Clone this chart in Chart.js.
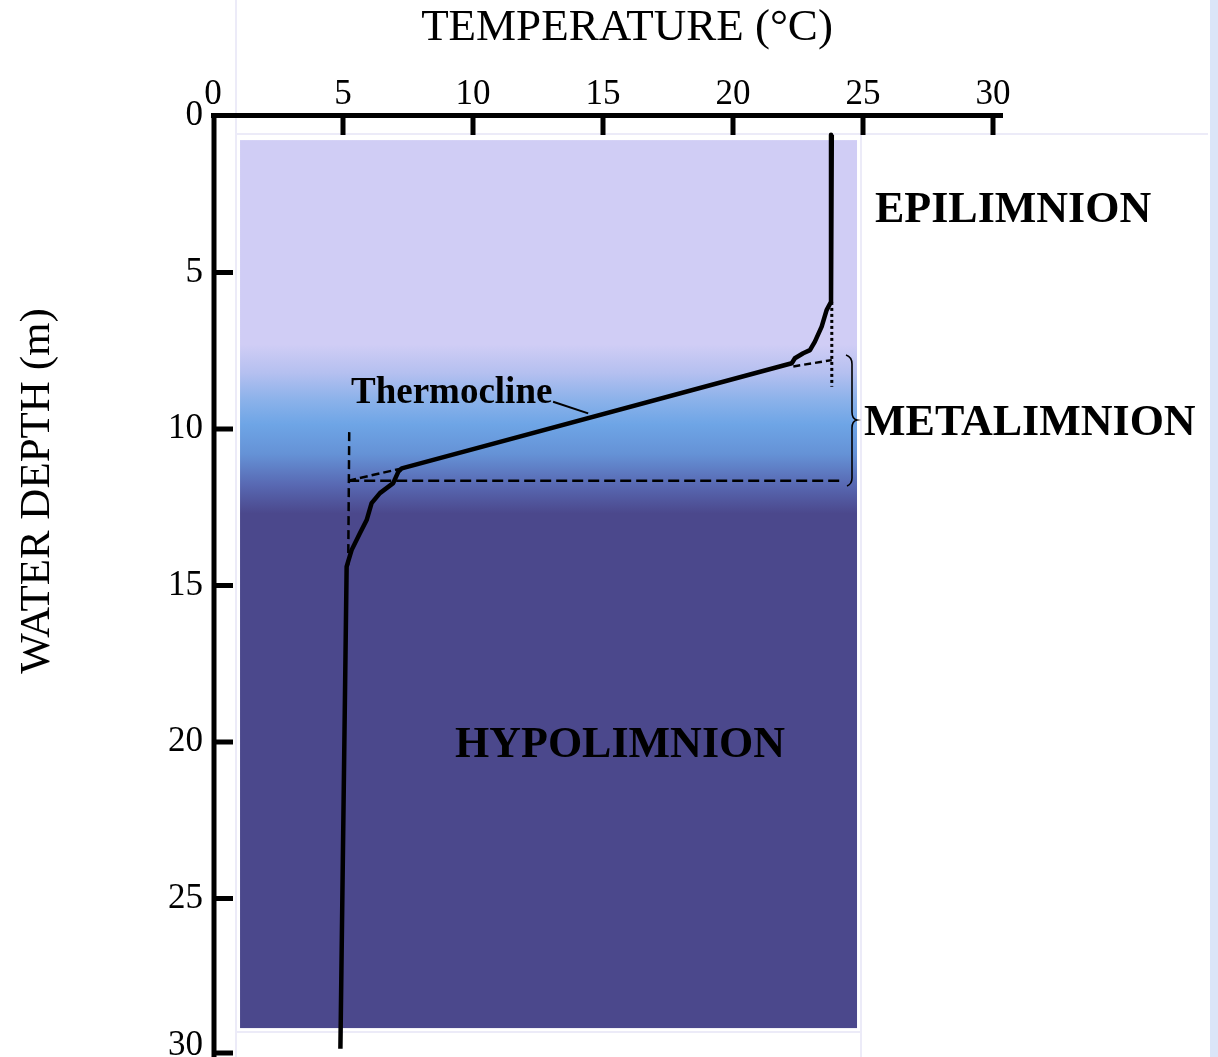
<!DOCTYPE html>
<html>
<head>
<meta charset="utf-8">
<title>Lake temperature profile</title>
<script src="https://cdn.jsdelivr.net/npm/chart.js@4.4.1/dist/chart.umd.min.js"></script>
<style>
  html, body { margin: 0; padding: 0; background: #fff; overflow: hidden; }
  #wrap { position: relative; width: 1218px; height: 1057px; }
</style>
</head>
<body>
<div id="wrap"><canvas id="chart"></canvas></div>
<script>
"use strict";

const TEMP_TICKS = [0, 5, 10, 15, 20, 25, 30];
const DEPTH_TICKS = [0, 5, 10, 15, 20, 25, 30];

// temperature profile (°C vs depth m)
const PROFILE_TEMP = [23.8, 23.77, 23.6, 23.41, 23.15, 22.96, 22.7, 22.38, 22.26, 7.26, 7.13, 6.93, 6.42, 6.1, 5.91, 5.65, 5.33, 5.14, 4.9];
const PROFILE_DEPTH = [0.6, 5.94, 6.2, 6.73, 7.21, 7.48, 7.58, 7.74, 7.9, 11.26, 11.36, 11.73, 12.05, 12.37, 12.91, 13.33, 13.87, 14.4, 29.8];

// construction lines
const UPPER_EXT_TEMP = [22.32, 23.8];
const UPPER_EXT_DEPTH = [8.0, 7.8];
const LOWER_EXT_TEMP = [5.2, 7.26];
const LOWER_EXT_DEPTH = [11.65, 11.26];
const BASE_TEMP = [5.2, 24.1];
const BASE_DEPTH = [11.65, 11.65];
const LOWER_VERT_TEMP = [5.24, 5.2];
const LOWER_VERT_DEPTH = [10.1, 14.35];
const UPPER_VERT_TEMP = [23.8, 23.8];
const UPPER_VERT_DEPTH = [5.94, 8.65];
const LEADER_TEMP = [13.08, 14.43];
const LEADER_DEPTH = [9.13, 9.5];

// water column shading (temp / depth extent) and colour stops by depth
const WATER_TEMP = [1.04, 24.77];
const WATER_DEPTH = [0.77, 29.14];
const SHADE_DEPTH = [7.3, 8.2, 9.05, 9.85, 10.8, 11.8, 12.7];
const SHADE_COLOR = ["#d0cdf5", "#b5c0f0", "#8cb2ea", "#6ea5e6", "#6592d6", "#5868b2", "#4b488c"];

const SERIF = "'Liberation Serif', 'DejaVu Serif', serif";

function pts(xs, ys) {
  return xs.map((x, i) => ({ x, y: ys[i] }));
}

function guide(xs, ys, dash, width) {
  return {
    data: pts(xs, ys),
    showLine: true,
    borderColor: "#000",
    borderWidth: width,
    borderDash: dash,
    pointRadius: 0,
    tension: 0,
  };
}

const decorPlugin = {
  id: "lakeDecor",
  beforeDraw(c) {
    const { ctx } = c;
    ctx.save();
    // faint frame of the original slide
    ctx.strokeStyle = "#ecebf8";
    ctx.lineWidth = 2;
    ctx.beginPath();
    ctx.moveTo(236, 0); ctx.lineTo(236, 1057);
    ctx.moveTo(236, 134); ctx.lineTo(1208, 134);
    ctx.moveTo(861, 134); ctx.lineTo(861, 1057);
    ctx.moveTo(236, 1032); ctx.lineTo(861, 1032);
    ctx.stroke();
    ctx.fillStyle = "#dbe5f8";
    ctx.fillRect(1210, 0, 8, 1057);
    ctx.restore();
  },
  beforeDatasetsDraw(c) {
    const { ctx, scales } = c;
    const x0 = scales.x.getPixelForValue(WATER_TEMP[0]);
    const x1 = scales.x.getPixelForValue(WATER_TEMP[1]);
    const y0 = scales.y.getPixelForValue(WATER_DEPTH[0]);
    const y1 = scales.y.getPixelForValue(WATER_DEPTH[1]);
    const g = ctx.createLinearGradient(0, y0, 0, y1);
    SHADE_DEPTH.forEach((d, i) => {
      const p = (scales.y.getPixelForValue(d) - y0) / (y1 - y0);
      g.addColorStop(Math.min(1, Math.max(0, p)), SHADE_COLOR[i]);
    });
    ctx.save();
    ctx.fillStyle = g;
    ctx.fillRect(x0, y0, x1 - x0, y1 - y0);
    ctx.restore();
  },
  afterDatasetsDraw(c) {
    const { ctx, scales, chartArea } = c;
    ctx.save();
    ctx.strokeStyle = "#000";
    ctx.lineCap = "butt";
    // axis lines
    ctx.lineWidth = 5;
    ctx.beginPath();
    ctx.moveTo(chartArea.left - 2, chartArea.top - 0.5);
    ctx.lineTo(chartArea.right + 10, chartArea.top - 0.5);
    ctx.moveTo(chartArea.left + 1, chartArea.top - 3);
    ctx.lineTo(chartArea.left + 1, 1057);
    ctx.stroke();
    // inward tick marks
    ctx.lineWidth = 5;
    ctx.beginPath();
    scales.x.ticks.forEach((t) => {
      if (t.value === 0) return;
      const px = scales.x.getPixelForValue(t.value);
      ctx.moveTo(px, chartArea.top);
      ctx.lineTo(px, chartArea.top + 19);
    });
    scales.y.ticks.forEach((t) => {
      if (t.value === 0) return;
      const py = Math.min(scales.y.getPixelForValue(t.value), 1053);
      ctx.moveTo(chartArea.left, py);
      ctx.lineTo(chartArea.left + 20, py);
    });
    ctx.stroke();

    // metalimnion brace
    ctx.lineWidth = 1.6;
    ctx.beginPath();
    ctx.moveTo(846, 355);
    ctx.quadraticCurveTo(852, 357, 852, 364);
    ctx.lineTo(852, 412);
    ctx.quadraticCurveTo(852, 419, 857, 420);
    ctx.quadraticCurveTo(852, 421, 852, 428);
    ctx.lineTo(852, 478);
    ctx.quadraticCurveTo(852, 484, 847, 486);
    ctx.stroke();

    // labels
    ctx.fillStyle = "#000";
    ctx.textAlign = "left";
    ctx.textBaseline = "middle";
    ctx.font = "bold 44px " + SERIF;
    ctx.fillText("EPILIMNION", 875, 211);
    ctx.fillText("METALIMNION", 864, 424);
    ctx.fillText("HYPOLIMNION", 455, 746);
    ctx.font = "bold 37px " + SERIF;
    ctx.textBaseline = "alphabetic";
    ctx.fillText("Thermocline", 351, 403);

    // axis titles
    ctx.font = "45px " + SERIF;
    ctx.textAlign = "center";
    ctx.fillText("TEMPERATURE (\u00B0C)", 627, 40);
    ctx.translate(38, 491);
    ctx.rotate(-Math.PI / 2);
    ctx.font = "43px " + SERIF;
    ctx.textBaseline = "middle";
    ctx.fillText("WATER DEPTH (m)", 0, 0);
    ctx.restore();
  },
};

const tickFont = { family: SERIF, size: 35 };

new Chart(document.getElementById("chart"), {
  type: "scatter",
  data: {
    datasets: [
      {
        data: pts(PROFILE_TEMP, PROFILE_DEPTH),
        showLine: true,
        borderColor: "#000",
        borderWidth: 4.5,
        borderJoinStyle: "round",
        pointRadius: 0,
        tension: 0,
      },
      guide(UPPER_EXT_TEMP, UPPER_EXT_DEPTH, [7, 4], 2.5),
      guide(LOWER_EXT_TEMP, LOWER_EXT_DEPTH, [8, 4], 2.5),
      guide(BASE_TEMP, BASE_DEPTH, [11, 5], 2.5),
      guide(LOWER_VERT_TEMP, LOWER_VERT_DEPTH, [9, 5], 2.5),
      guide(UPPER_VERT_TEMP, UPPER_VERT_DEPTH, [3, 3], 3),
      guide(LEADER_TEMP, LEADER_DEPTH, [], 2),
    ],
  },
  options: {
    responsive: true,
    maintainAspectRatio: false,
    animation: false,
    layout: { padding: { left: 0, top: 0, right: 225, bottom: 2 } },
    plugins: { legend: { display: false }, tooltip: { enabled: false } },
    scales: {
      x: {
        type: "linear",
        position: "top",
        min: 0,
        max: 30,
        afterBuildTicks: (s) => { s.ticks = TEMP_TICKS.map((v) => ({ value: v })); },
        afterFit: (s) => { s.height = 116; s.paddingLeft = 0; s.paddingRight = 0; },
        grid: { display: false, drawTicks: false },
        border: { display: false },
        ticks: { font: tickFont, color: "#000", padding: 0, maxRotation: 0 },
      },
      y: {
        type: "linear",
        reverse: true,
        min: 0,
        max: 30,
        afterBuildTicks: (s) => { s.ticks = DEPTH_TICKS.map((v) => ({ value: v })); },
        afterFit: (s) => { s.width = 213; s.paddingTop = 0; s.paddingBottom = 0; },
        grid: { display: false, drawTicks: false },
        border: { display: false },
        ticks: {
          color: "#000",
          padding: 10,
          font: (ctx) => ({ family: SERIF, size: 35, lineHeight: ctx.tick && ctx.tick.value === 30 ? 0.5 : 1.2 }),
          callback: (v) => (v === 30 ? ["30", ""] : String(v)),
        },
      },
    },
  },
  plugins: [decorPlugin],
});
</script>
</body>
</html>
